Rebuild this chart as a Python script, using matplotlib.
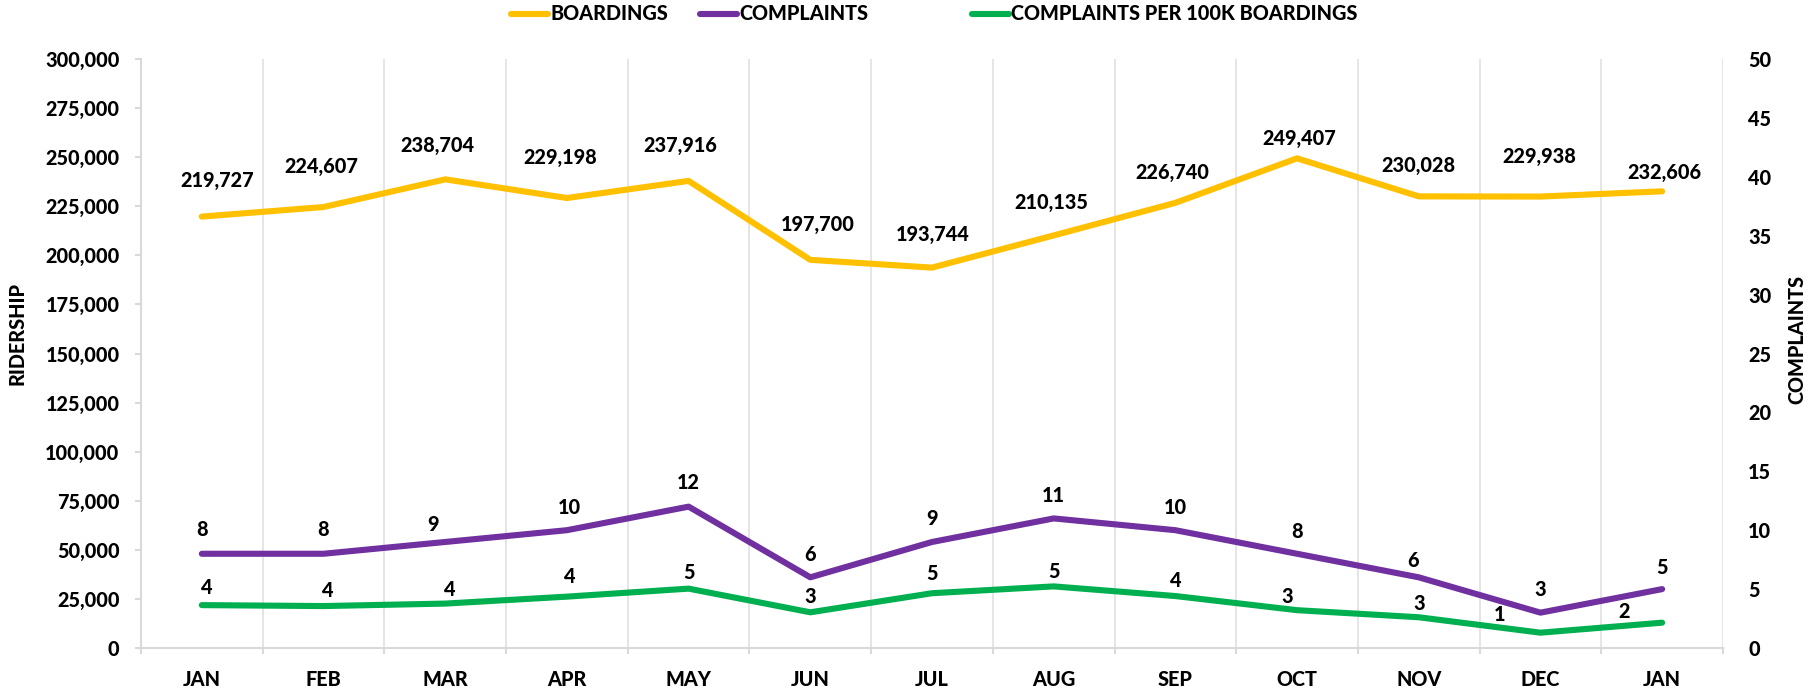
import matplotlib
matplotlib.use("Agg")
import matplotlib.pyplot as plt
from matplotlib.lines import Line2D
from matplotlib.ticker import FuncFormatter, MultipleLocator
import numpy as np

plt.rcParams['font.family'] = ['Lato', 'DejaVu Sans']

months = ["JAN", "FEB", "MAR", "APR", "MAY", "JUN", "JUL", "AUG", "SEP", "OCT", "NOV", "DEC", "JAN"]
boardings = [219727, 224607, 238704, 229198, 237916, 197700, 193744, 210135, 226740, 249407, 230028, 229938, 232606]
complaints = [8, 8, 9, 10, 12, 6, 9, 11, 10, 8, 6, 3, 5]
per_100k = [3.64, 3.56, 3.77, 4.36, 5.04, 3.03, 4.65, 5.23, 4.41, 3.21, 2.61, 1.30, 2.15]
series_names = ["BOARDINGS", "COMPLAINTS", "COMPLAINTS PER 100K BOARDINGS"]

# label offsets in pixels (dx, dy upward) -- layout only
off_board = [(15, 36), (-2, 41), (-8, 34), (-7, 41), (-8, 35), (7, 35), (1, 33),
             (-2, 33), (-3, 30), (2, 20), (0, 31), (-1, 40), (2, 19)]
off_comp = [(0, 24), (0, 24), (-12, 17), (2, 23), (0, 24), (0, 23), (0, 23),
            (0, 23), (0, 23), (0, 22), (-6, 17), (0, 23), (0, 22)]
off_rate = [(5, 18), (4, 16), (5, 14), (3, 20), (0, 16), (0, 16), (0, 20),
            (0, 15), (0, 16), (-10, 14), (0, 14), (-41, 18), (-38, 11)]

YELLOW = "#FFC000"
PURPLE = "#7030A0"
GREEN = "#00B050"
GRID = "#E3E3E3"
AXC = "#D9D9D9"
FS = 14.3
W = 'black'
LW = 4.4

fig = plt.figure(figsize=(18.11, 6.93), dpi=100)
ax = fig.add_axes([141/1811, 1 - 648/693, (1723-141)/1811, (648-59)/693])
ax2 = ax.twinx()

x = np.arange(len(months))
kw = dict(lw=LW, solid_capstyle='round', solid_joinstyle='round')
l1, = ax.plot(x, boardings, color=YELLOW, label=series_names[0], **kw)
l2, = ax2.plot(x, complaints, color=PURPLE, label=series_names[1], **kw)
l3, = ax2.plot(x, per_100k, color=GREEN, label=series_names[2], **kw)

for xi, v, (dx, dy) in zip(x, boardings, off_board):
    ax.annotate(f"{v:,}", (xi, v), xytext=(dx, dy), textcoords='offset pixels',
                ha='center', va='center', fontsize=FS, fontweight=W, color='black')
for xi, v, (dx, dy) in zip(x, complaints, off_comp):
    ax2.annotate(f"{v}", (xi, v), xytext=(dx, dy), textcoords='offset pixels',
                 ha='center', va='center', fontsize=FS, fontweight=W, color='black')
for xi, v, (dx, dy) in zip(x, per_100k, off_rate):
    ax2.annotate(f"{v:.0f}", (xi, v), xytext=(dx, dy), textcoords='offset pixels',
                 ha='center', va='center', fontsize=FS, fontweight=W, color='black')

ax.set_xlim(-0.5, len(months) - 0.5)
ax.set_ylim(0, 300000)
ax2.set_ylim(0, 50)
ax.yaxis.set_major_locator(MultipleLocator(25000))
ax2.yaxis.set_major_locator(MultipleLocator(5))
ax.yaxis.set_major_formatter(FuncFormatter(lambda v, p: f"{int(v):,}"))

ax.set_xticks(x)
ax.set_xticklabels([" ".join(m) if False else m for m in months])
ax.set_xticks(np.arange(-0.5, len(months), 1), minor=True)
ax.tick_params(axis='x', which='major', length=0, pad=16, labelsize=FS)
ax.tick_params(axis='x', which='minor', length=4.5, width=1.5, color=AXC, direction='out')
ax.grid(axis='x', which='minor', color=GRID, lw=1.3)
ax.grid(axis='x', which='major', visible=False)
ax.tick_params(axis='y', length=4.5, width=1.5, color=AXC, pad=11, labelsize=FS)
ax2.tick_params(axis='y', length=0, pad=18, labelsize=FS)
for t in ax.get_xticklabels() + ax.get_yticklabels() + ax2.get_yticklabels():
    t.set_fontweight(W)

for a in (ax, ax2):
    for s in ('top', 'right', 'left', 'bottom'):
        a.spines[s].set_visible(False)
for s in ('left', 'bottom'):
    ax.spines[s].set_visible(True)
    ax.spines[s].set_color(AXC)
    ax.spines[s].set_linewidth(1.5)

fig.text(17/1811, 1 - 333/693, "RIDERSHIP", rotation=90, ha='center', va='center',
         fontsize=FS, fontweight=W)
fig.text(1797/1811, 1 - 340/693, "COMPLAINTS", rotation=90, ha='center', va='center',
         fontsize=FS, fontweight=W)

# legend, drawn as a figure-level key row
key_starts = [511, 700, 972]
key_len = 37
ly = 1 - 14/693
for start, line, name in zip(key_starts, (l1, l2, l3), series_names):
    fig.add_artist(Line2D([start/1811, (start+key_len)/1811], [ly, ly], color=line.get_color(),
                          lw=LW, solid_capstyle='round', transform=fig.transFigure))
    fig.text((start + key_len + 2)/1811, ly, name, ha='left', va='center',
             fontsize=FS, fontweight=W)

fig.savefig("out.png", dpi=100)
